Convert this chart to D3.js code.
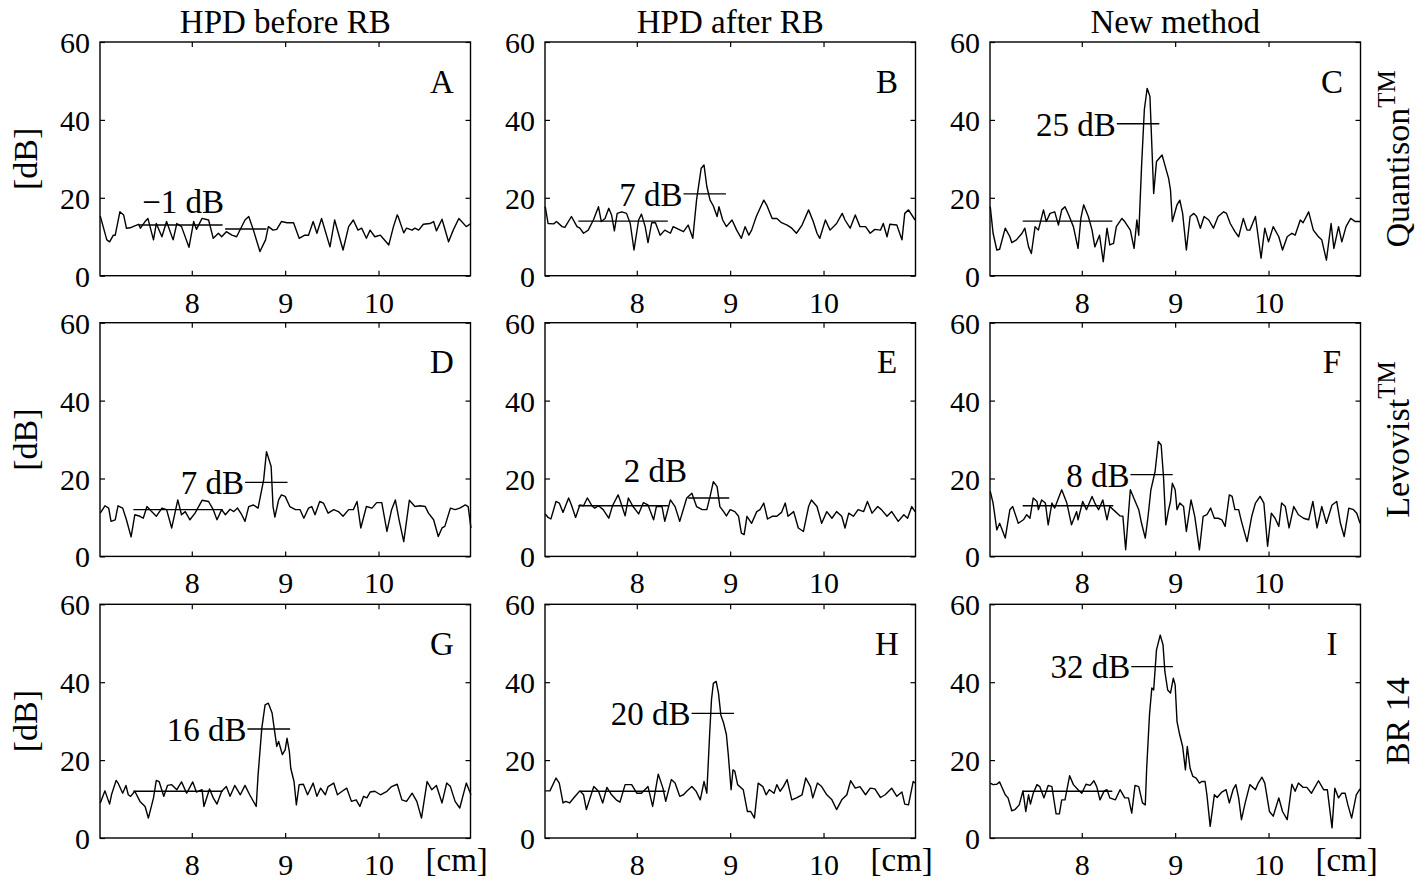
<!DOCTYPE html>
<html><head><meta charset="utf-8">
<script src="https://cdn.jsdelivr.net/npm/d3@7"></script>
<style>
body{margin:0;background:#fff}
svg{display:block;background:#fff}
text{font-family:"Liberation Serif","Times New Roman",serif;fill:#000}
</style>
</head><body>
<svg id="chart" width="1428" height="881"></svg>
<script>
// ---------- data ----------
const columnTitles = ["HPD before RB", "HPD after RB", "New method"];
const rowNames = ["Quantison", "Levovist", "BR 14"];
const rowSups = ["TM", "TM", ""];
const panelLetters = ["A","B","C","D","E","F","G","H","I"];
const xTickValues = [8, 9, 10];
const yTickValues = [0, 20, 40, 60];
const xDomain = [7.017, 10.985];
const yDomain = [0, 60];

const xA = [7.02,7.09,7.12,7.16,7.18,7.23,7.27,7.30,7.34,7.39,7.43,7.45,7.50,7.53,7.59,7.62,7.68,7.73,7.80,7.84,7.89,7.97,8.02,8.05,8.11,8.18,8.23,8.285,8.32,8.37,8.43,8.48,8.57,8.61,8.66,8.73,8.79,8.82,8.87,8.91,8.96,9.02,9.09,9.15,9.21,9.25,9.30,9.34,9.39,9.48,9.53,9.62,9.68,9.73,9.78,9.82,9.87,9.91,9.96,10.02,10.11,10.16,10.20,10.21,10.27,10.30,10.36,10.39,10.43,10.48,10.55,10.59,10.62,10.68,10.75,10.80,10.86,10.89,10.94,10.99];
const yA = [15.3,9.2,8.7,10.4,10.4,16.4,15.6,12.2,12.3,12.8,13.2,12.2,13.9,14.7,9.2,13.4,10.0,13.9,9.2,13.4,12.6,7.3,13.9,11.9,14.7,14.3,9.6,10.9,10.0,11.3,10.4,10.0,14.3,15.2,11.7,6.2,9.2,12.6,11.7,11.9,13.9,13.6,13.6,9.6,10.4,10.4,13.9,10.9,14.7,7.4,14.3,6.6,12.6,14.3,11.7,12.2,9.6,11.7,10.0,10.4,7.9,12.6,15.6,15.2,11.0,12.2,11.7,12.2,11.7,13.2,13.4,13.9,11.5,14.5,8.7,11.7,14.7,13.9,12.6,13.4];

const xB = [7.02,7.05,7.11,7.14,7.20,7.23,7.30,7.36,7.39,7.43,7.48,7.535,7.59,7.62,7.66,7.70,7.73,7.76,7.79,7.84,7.89,7.93,7.97,8.02,8.05,8.09,8.12,8.16,8.20,8.25,8.30,8.36,8.39,8.45,8.50,8.55,8.60,8.64,8.69,8.72,8.75,8.785,8.82,8.86,8.88,8.92,8.96,9.02,9.07,9.12,9.16,9.20,9.23,9.28,9.36,9.39,9.45,9.50,9.55,9.61,9.66,9.71,9.77,9.84,9.89,9.93,9.96,10.02,10.07,10.14,10.20,10.23,10.285,10.34,10.39,10.45,10.50,10.55,10.61,10.64,10.68,10.71,10.785,10.84,10.87,10.91,10.98];
const yB = [17.7,13.4,13.3,13.9,12.6,12.4,15.2,12.6,12.2,10.9,11.7,14.3,17.7,13.9,14.7,17.3,15.6,11.5,16.0,16.4,16.0,13.4,6.6,14.3,15.8,12.6,8.5,13.6,13.6,10.4,11.7,10.9,12.6,11.9,11.3,13.0,9.6,19.4,27.6,28.4,22.9,19.4,17.9,15.2,17.7,14.3,12.6,14.3,11.7,9.6,12.6,10.4,11.7,15.2,19.4,18.2,14.7,14.7,13.6,13.0,12.2,10.9,13.0,16.9,13.9,10.9,9.6,14.3,11.7,13.4,16.0,14.3,12.2,15.6,12.6,12.6,10.9,11.9,11.7,13.4,10.0,13.2,13.0,9.2,16.0,16.9,14.3];

const xC = [7.02,7.05,7.09,7.12,7.18,7.23,7.25,7.30,7.36,7.39,7.43,7.46,7.50,7.535,7.59,7.62,7.66,7.71,7.75,7.785,7.82,7.86,7.91,7.96,7.99,8.02,8.07,8.11,8.14,8.19,8.23,8.27,8.30,8.34,8.37,8.43,8.46,8.52,8.56,8.59,8.61,8.64,8.67,8.70,8.73,8.77,8.80,8.86,8.89,8.93,8.95,8.97,9.02,9.05,9.08,9.12,9.16,9.20,9.23,9.27,9.31,9.36,9.41,9.46,9.52,9.55,9.59,9.64,9.68,9.73,9.77,9.80,9.86,9.92,9.96,10.00,10.05,10.11,10.15,10.20,10.25,10.285,10.34,10.37,10.43,10.48,10.535,10.57,10.62,10.67,10.70,10.75,10.785,10.83,10.88,10.93,10.98];
const yC = [17.7,10.9,6.6,6.8,12.2,10.0,8.5,9.2,10.9,12.2,7.4,5.7,12.6,11.7,16.9,13.9,16.0,16.4,13.0,16.9,17.7,15.6,12.6,7.0,14.7,18.2,15.2,11.7,7.4,10.4,3.6,12.2,7.9,8.3,12.6,14.7,13.9,11.7,7.0,14.3,10.4,28.0,42.6,48.1,46.0,21.1,29.3,31.0,28.4,25.0,22.0,13.9,18.2,19.4,16.0,6.6,15.2,16.0,15.2,12.2,15.2,14.3,12.2,15.2,16.4,16.0,13.4,11.3,10.0,14.7,11.7,11.7,15.2,4.5,12.2,8.7,12.6,10.0,6.6,10.0,10.9,10.4,14.3,13.6,16.4,11.7,10.0,9.2,4.0,13.4,7.0,12.6,8.7,12.6,14.7,13.9,13.9];

const xD = [7.02,7.07,7.11,7.135,7.18,7.21,7.26,7.30,7.35,7.39,7.445,7.48,7.52,7.57,7.62,7.68,7.73,7.785,7.85,7.89,7.93,7.98,8.035,8.11,8.18,8.23,8.27,8.32,8.36,8.41,8.45,8.49,8.535,8.57,8.61,8.66,8.71,8.77,8.80,8.85,8.87,8.89,8.93,8.96,9.00,9.05,9.11,9.16,9.20,9.25,9.285,9.32,9.37,9.41,9.46,9.52,9.57,9.62,9.68,9.73,9.77,9.81,9.87,9.93,9.98,10.035,10.09,10.14,10.18,10.22,10.27,10.33,10.39,10.445,10.50,10.535,10.59,10.64,10.68,10.71,10.77,10.82,10.87,10.93,10.96,10.99];
const yD = [11.1,13.0,12.4,9.0,9.4,13.0,12.4,9.4,5.0,10.7,10.3,9.8,12.8,11.5,10.3,12.4,12.0,7.3,14.5,10.7,11.5,9.4,11.1,14.4,14.1,12.0,9.4,12.0,10.7,12.1,11.5,12.4,10.7,9.0,12.8,13.2,12.4,19.7,26.9,23.1,12.8,10.1,14.5,15.8,15.4,12.8,12.0,12.0,9.8,12.4,12.8,10.7,14.1,13.7,11.1,12.0,11.5,10.3,12.0,12.0,14.1,7.3,12.8,12.4,13.8,13.8,6.4,12.0,14.5,9.4,3.8,14.4,12.8,13.0,12.8,11.1,9.4,5.1,7.3,7.7,12.4,12.0,12.4,13.2,12.8,7.3];

const xE = [7.02,7.05,7.08,7.135,7.17,7.21,7.27,7.30,7.345,7.39,7.43,7.47,7.52,7.55,7.59,7.64,7.70,7.74,7.80,7.82,7.875,7.91,7.96,8.02,8.07,8.12,8.18,8.21,8.27,8.30,8.36,8.41,8.46,8.535,8.59,8.64,8.70,8.75,8.785,8.82,8.86,8.89,8.93,8.96,9.00,9.05,9.09,9.12,9.15,9.18,9.23,9.285,9.32,9.36,9.40,9.45,9.50,9.55,9.59,9.62,9.68,9.73,9.785,9.84,9.87,9.93,9.98,10.035,10.09,10.14,10.195,10.23,10.27,10.32,10.37,10.43,10.47,10.52,10.58,10.62,10.68,10.73,10.80,10.86,10.90,10.945,10.98];
const yE = [10.9,10.0,9.6,14.1,13.7,11.3,15.0,13.2,10.0,13.2,13.0,15.0,13.0,12.4,13.0,12.0,9.8,13.0,15.8,14.5,10.4,15.0,12.8,10.9,13.8,13.2,9.4,12.8,12.8,9.0,14.5,12.8,9.0,15.0,16.2,12.8,12.0,12.0,15.4,19.2,17.9,12.8,11.5,10.4,12.0,11.5,10.3,6.0,5.6,10.3,8.5,11.5,12.0,13.7,9.6,10.3,10.3,11.3,13.7,10.3,11.5,7.3,6.4,12.8,14.5,12.8,8.5,11.5,9.8,11.5,10.3,7.3,11.1,10.3,12.0,11.5,14.1,11.1,12.8,12.0,10.3,11.5,9.0,10.7,9.8,12.8,11.5];

const xF = [7.02,7.05,7.09,7.12,7.14,7.18,7.23,7.26,7.32,7.375,7.41,7.445,7.48,7.52,7.535,7.57,7.61,7.64,7.68,7.71,7.785,7.84,7.89,7.945,7.96,8.01,8.05,8.11,8.14,8.18,8.225,8.27,8.30,8.36,8.41,8.44,8.47,8.52,8.55,8.61,8.64,8.68,8.71,8.74,8.785,8.82,8.85,8.875,8.90,8.93,8.95,8.97,9.00,9.02,9.05,9.09,9.12,9.17,9.21,9.26,9.30,9.34,9.38,9.42,9.46,9.50,9.535,9.58,9.61,9.64,9.68,9.71,9.77,9.82,9.86,9.91,9.95,9.99,10.03,10.07,10.11,10.14,10.18,10.22,10.27,10.32,10.375,10.43,10.475,10.52,10.57,10.62,10.68,10.73,10.77,10.81,10.86,10.91,10.945,10.98];
const yF = [16.7,13.7,6.8,8.5,7.3,4.7,12.0,12.8,8.5,9.4,10.7,9.8,15.0,14.1,12.0,14.5,13.7,8.1,13.7,12.4,17.1,13.7,8.1,11.5,9.4,14.1,12.0,15.4,13.7,12.0,14.5,9.4,12.8,11.5,10.4,10.3,1.7,17.1,15.4,12.0,8.5,4.7,10.3,17.1,21.8,29.5,28.6,20.5,8.1,12.0,14.1,18.8,17.1,12.0,13.7,12.8,6.4,14.5,10.3,1.7,10.3,10.7,12.4,9.8,9.8,9.4,7.7,15.8,15.4,12.0,12.0,9.0,3.8,10.3,13.7,15.4,13.7,2.6,11.1,9.8,7.7,13.7,12.8,7.3,12.8,10.7,9.8,9.4,14.1,7.3,12.8,8.5,13.2,14.1,8.5,5.1,12.4,12.0,11.1,8.5];

const xG = [7.02,7.07,7.12,7.14,7.19,7.21,7.26,7.295,7.32,7.345,7.39,7.445,7.50,7.535,7.59,7.62,7.65,7.70,7.74,7.785,7.84,7.89,7.945,8.01,8.05,8.11,8.13,8.19,8.23,8.27,8.32,8.37,8.41,8.46,8.52,8.57,8.62,8.69,8.71,8.75,8.785,8.82,8.86,8.88,8.91,8.93,8.95,8.97,9.00,9.02,9.045,9.06,9.095,9.12,9.15,9.195,9.24,9.30,9.34,9.38,9.43,9.46,9.52,9.56,9.61,9.66,9.71,9.76,9.80,9.84,9.875,9.91,9.96,10.02,10.09,10.14,10.20,10.25,10.30,10.36,10.41,10.46,10.52,10.57,10.62,10.68,10.73,10.77,10.82,10.87,10.94,10.99];
const yG = [9.0,12.1,8.7,11.1,14.8,14.1,11.5,13.5,11.1,10.7,12.0,9.4,8.1,5.1,10.3,14.8,14.5,10.7,13.5,13.7,12.4,14.4,11.5,14.4,11.8,12.4,8.1,12.6,10.3,8.7,12.0,13.2,10.7,13.5,11.1,13.5,11.1,8.1,16.2,28.2,34.2,34.6,32.1,28.6,23.5,24.8,23.1,21.4,22.6,25.6,22.2,17.9,14.5,8.5,13.7,13.8,11.1,14.1,10.7,12.8,11.1,13.2,14.1,11.1,12.0,12.8,9.4,9.8,8.1,10.7,10.3,11.8,12.0,11.1,12.0,13.2,13.8,9.8,9.4,11.5,9.4,5.1,14.5,12.4,13.5,9.0,14.1,13.2,9.4,7.7,14.1,11.1];

const xH = [7.02,7.07,7.135,7.17,7.21,7.24,7.28,7.34,7.39,7.43,7.46,7.50,7.54,7.59,7.635,7.68,7.73,7.78,7.82,7.875,7.945,8.00,8.05,8.12,8.17,8.23,8.28,8.31,8.37,8.41,8.46,8.50,8.535,8.59,8.635,8.68,8.72,8.75,8.78,8.80,8.82,8.85,8.875,8.90,8.93,8.96,8.98,9.01,9.03,9.05,9.08,9.14,9.185,9.22,9.26,9.30,9.35,9.385,9.42,9.47,9.50,9.535,9.57,9.61,9.66,9.71,9.77,9.81,9.86,9.885,9.935,9.98,10.035,10.09,10.14,10.195,10.25,10.29,10.34,10.39,10.45,10.50,10.55,10.61,10.66,10.73,10.785,10.84,10.87,10.91,10.96,10.98];
const yH = [12.1,12.1,15.4,14.1,9.0,9.4,9.0,10.7,12.1,11.1,7.3,10.3,13.2,12.0,9.0,13.0,11.1,9.8,9.2,13.7,13.7,11.5,11.5,13.2,8.1,16.4,12.8,9.4,15.0,14.1,10.7,11.1,12.0,13.2,12.0,9.8,14.5,11.5,26.5,35.5,39.7,40.2,37.2,31.6,29.5,26.5,21.4,12.4,17.5,17.1,13.7,12.4,6.8,6.8,5.1,14.1,13.2,11.1,12.4,11.5,13.7,12.0,13.2,15.0,9.8,10.3,11.1,15.4,13.2,10.3,14.1,13.2,11.1,9.8,7.3,9.8,11.1,14.7,12.8,13.2,11.1,12.8,12.6,10.4,11.1,12.8,10.7,11.8,8.7,8.5,14.5,14.1];

const xI = [7.02,7.05,7.09,7.12,7.18,7.21,7.25,7.285,7.33,7.37,7.40,7.43,7.45,7.48,7.52,7.55,7.595,7.64,7.68,7.725,7.76,7.785,7.82,7.87,7.91,7.96,8.00,8.045,8.09,8.13,8.16,8.195,8.24,8.27,8.30,8.36,8.41,8.46,8.50,8.535,8.57,8.61,8.65,8.68,8.695,8.725,8.75,8.77,8.80,8.84,8.87,8.89,8.92,8.95,8.98,9.00,9.02,9.045,9.08,9.11,9.13,9.16,9.19,9.225,9.26,9.285,9.32,9.34,9.375,9.42,9.45,9.50,9.545,9.58,9.62,9.65,9.68,9.71,9.75,9.80,9.86,9.89,9.93,9.96,10.01,10.05,10.11,10.15,10.20,10.25,10.285,10.32,10.37,10.41,10.46,10.535,10.59,10.63,10.68,10.71,10.75,10.785,10.82,10.85,10.89,10.94,10.98];
const yI = [14.1,13.7,13.8,14.4,11.1,10.3,7.0,7.3,8.5,12.1,6.8,11.1,8.7,11.5,13.7,13.2,10.3,13.5,13.2,6.2,6.2,9.8,9.8,16.0,13.7,12.4,11.5,13.8,13.5,14.7,13.2,9.8,12.1,12.4,10.3,9.8,12.4,10.3,10.3,6.4,13.5,13.2,9.0,8.5,17.9,31.6,38.5,38.0,48.3,52.1,49.6,42.7,38.0,37.2,41.0,39.3,29.9,26.9,23.5,17.5,23.5,17.9,15.8,15.4,14.1,14.5,14.5,11.1,3.0,11.1,10.4,11.8,12.4,9.0,12.4,13.7,10.3,4.7,9.0,13.7,12.4,14.1,15.6,14.1,6.8,5.6,10.3,6.8,4.7,13.8,12.0,14.1,13.0,13.0,11.5,14.7,12.4,12.4,2.6,12.8,10.3,11.5,11.5,8.5,5.1,11.1,12.6];

// background level segment (cm start, cm end, dB) and signal level segment
const baseStart  = [7.435, 7.374, 7.367, 7.374, 7.374, 7.367, 7.374, 7.392, 7.367];
const baseEnd    = [8.33,  8.332, 8.327, 8.332, 8.338, 8.337, 8.332, 8.31,  8.327];
const baseLevel  = [13, 14, 14, 12, 13, 13, 12, 12, 12];
const peakStart  = [8.357, 8.50, 8.375, 8.571, 8.55, 8.521, 8.596, 8.587, 8.53];
const peakEnd    = [8.80,  8.955, 8.83, 9.025, 8.99, 8.974, 9.053, 9.041, 8.976];
const peakLevel  = [12, 21, 39, 19, 15, 21, 28, 32, 44];
const contrastLabels = ["\u22121 dB","7 dB","25 dB","7 dB","2 dB","8 dB","16 dB","20 dB","32 dB"];
const labelLevel = [16.1, 18.0, 35.8, 16.0, 19.2, 17.9, 24.8, 28.9, 41.0];
const letterX = 10.68, letterY = 47;

const seriesX = [xA,xB,xC,xD,xE,xF,xG,xH,xI];
const seriesY = [yA,yB,yC,yD,yE,yF,yG,yH,yI];

// ---------- layout ----------
const svg = d3.select("#chart");
const colLeft = [100, 545, 990];
const rowTop = [42, 322.7, 604.3];
const W = 370.5, H = 233.7;
const FONT_BIG = 33, FONT_TICK = 30;

const x = d3.scaleLinear().domain(xDomain).range([0, W]);
const y = d3.scaleLinear().domain(yDomain).range([H, 0]);
const line = d3.line().x(d => x(d[0])).y(d => y(d[1]));

svg.append("rect").attr("width",1428).attr("height",881).attr("fill","#fff");

for (let i = 0; i < 9; i++) {
  const r = Math.floor(i / 3), c = i % 3;
  const g = svg.append("g").attr("transform", `translate(${colLeft[c]},${rowTop[r]})`);

  // axes with inward ticks
  const bottom = g.append("g").attr("transform", `translate(0,${H})`)
    .call(d3.axisBottom(x).tickValues(xTickValues).tickSize(-5).tickFormat(d3.format("d")));
  bottom.selectAll("text").attr("y", 37).attr("dy", 0).style("font-size", FONT_TICK + "px");
  g.append("g").call(d3.axisTop(x).tickValues(xTickValues).tickSize(-5).tickFormat(""));
  const left = g.append("g")
    .call(d3.axisLeft(y).tickValues(yTickValues).tickSize(-5).tickPadding(10).tickFormat(d3.format("d")));
  left.selectAll("text").attr("dy", "0.35em").style("font-size", FONT_TICK + "px");
  g.append("g").attr("transform", `translate(${W},0)`)
    .call(d3.axisRight(y).tickValues(yTickValues).tickSize(-5).tickFormat(""));
  g.selectAll(".domain").remove();
  g.selectAll(".tick line").attr("stroke", "#000").attr("stroke-width", 1.2);
  g.selectAll(".tick text").attr("fill", "#000").style("font-family", '"Liberation Serif","Times New Roman",serif');

  // frame
  g.append("rect").attr("x",0).attr("y",0).attr("width",W).attr("height",H)
    .attr("fill","none").attr("stroke","#000").attr("stroke-width",1.4);

  // trace
  const pts = d3.zip(seriesX[i], seriesY[i]);
  g.append("path").datum(pts).attr("d", line)
    .attr("fill","none").attr("stroke","#000").attr("stroke-width",1.4)
    .attr("stroke-linejoin","round");

  // level lines
  g.append("line").attr("x1", x(baseStart[i])).attr("x2", x(baseEnd[i]))
    .attr("y1", y(baseLevel[i])).attr("y2", y(baseLevel[i]))
    .attr("stroke","#000").attr("stroke-width",1.4);
  g.append("line").attr("x1", x(peakStart[i])).attr("x2", x(peakEnd[i]))
    .attr("y1", y(peakLevel[i])).attr("y2", y(peakLevel[i]))
    .attr("stroke","#000").attr("stroke-width",1.4);

  // contrast label
  g.append("text").attr("x", x(peakStart[i]) - 1).attr("y", y(labelLevel[i]))
    .attr("text-anchor","end").style("font-size", FONT_BIG + "px").text(contrastLabels[i]);

  // panel letter
  g.append("text").attr("x", x(letterX)).attr("y", y(letterY))
    .attr("text-anchor","middle").style("font-size", FONT_BIG + "px").text(panelLetters[i]);

  // [cm] on bottom row
  if (r === 2) {
    g.append("text").attr("x", W - 45).attr("y", H + 33)
      .style("font-size", FONT_BIG + "px").text("[cm]");
  }
  // [dB] on first column
  if (c === 0) {
    g.append("text").attr("transform", `translate(${37 - colLeft[0]},${H/2}) rotate(-90)`)
      .attr("text-anchor","middle").style("font-size", "34px").text("[dB]");
  }
  // column titles
  if (r === 0) {
    g.append("text").attr("x", W/2).attr("y", 33 - rowTop[0])
      .attr("text-anchor","middle").style("font-size", FONT_BIG + "px").text(columnTitles[c]);
  }
  // row labels
  if (c === 2) {
    const t = g.append("text").attr("transform", `translate(${1409 - colLeft[2]},${H/2}) rotate(-90)`)
      .attr("text-anchor","middle").style("font-size", "34px");
    t.append("tspan").text(rowNames[r]);
    if (rowSups[r]) t.append("tspan").attr("dy", -14).style("font-size", "25px").text(rowSups[r]);
  }
}
</script>
</body></html>
